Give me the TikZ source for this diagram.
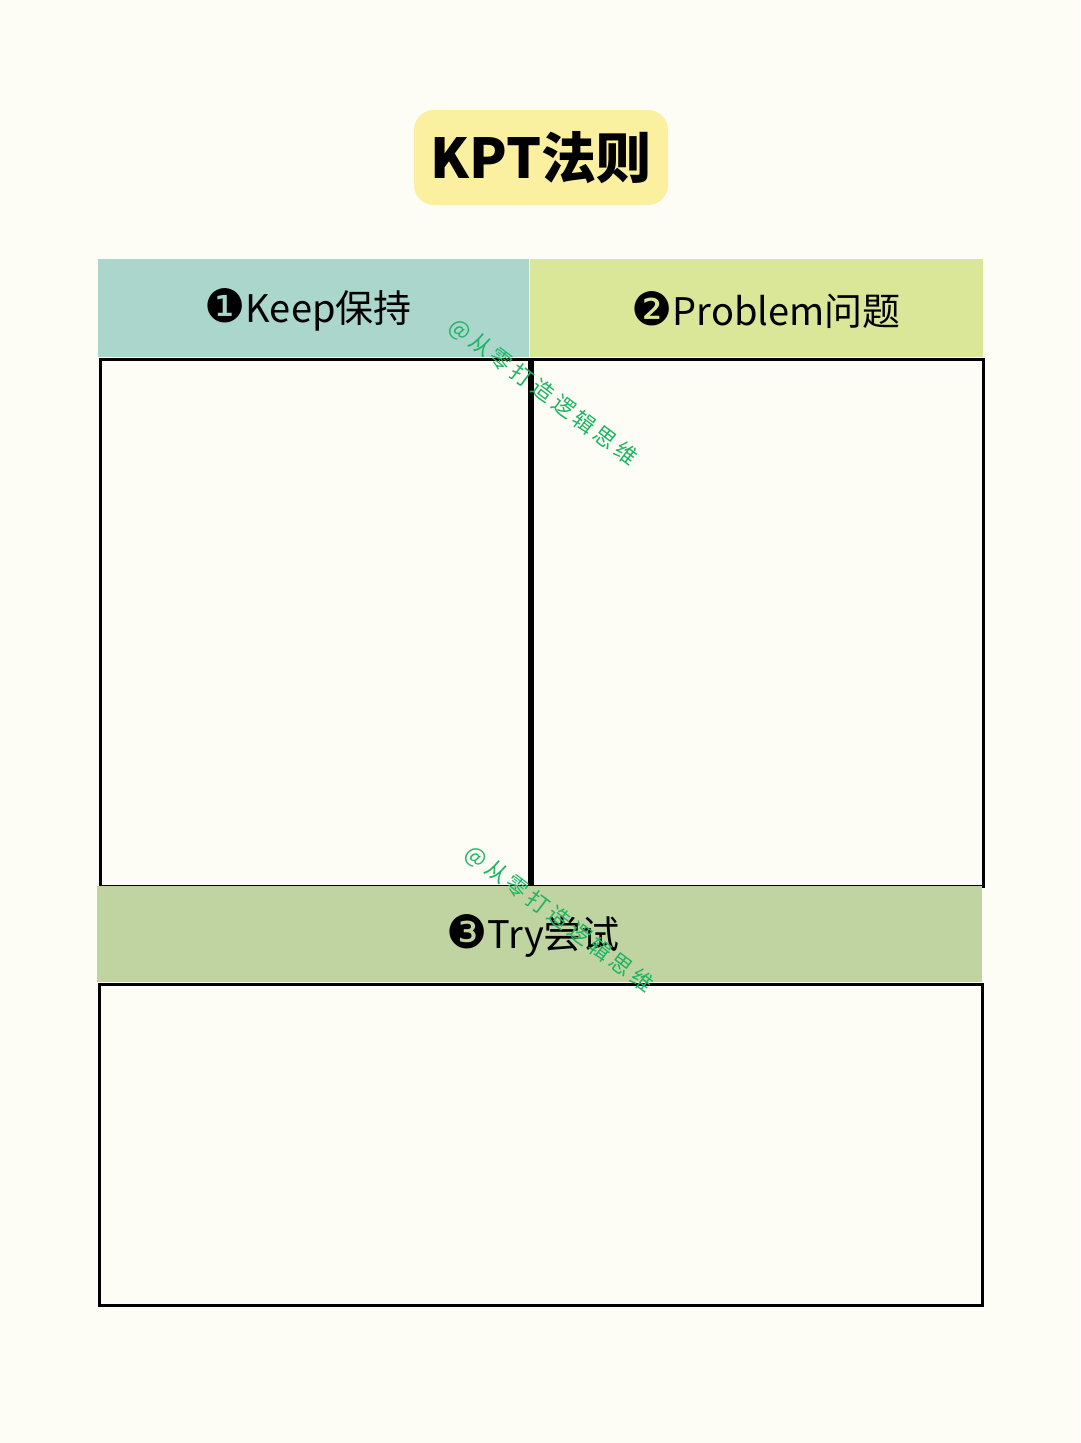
\documentclass[tikz,border=0pt]{standalone}
\usepackage{fontspec}
\setmainfont{Noto Sans CJK SC}
\newfontfamily\numfont{DejaVu Sans}
\newfontfamily\markfont{Noto Sans CJK SC}[LetterSpace=18]
\usepackage{tikz}
\usetikzlibrary{positioning}
\usepackage{xcolor}
\definecolor{paper}{RGB}{253,253,245}
\definecolor{titleyellow}{RGB}{250,240,160}
\definecolor{keepcol}{RGB}{170,214,204}
\definecolor{problemcol}{RGB}{218,230,152}
\definecolor{trycol}{RGB}{192,212,162}
\definecolor{markgreen}{RGB}{30,180,100}
\newcommand{\numdot}[1]{{\numfont\fontsize{46}{46}\selectfont #1}}

\begin{document}
\begin{tikzpicture}[x=1pt,y=-1pt,
	head/.style={inner sep=0pt,anchor=north west},
	headtext/.style={font=\fontsize{38}{42}\selectfont},
	cell/.style={draw=black,line width=3pt,inner sep=0pt,anchor=north west},
	watermark/.style={text=markgreen,rotate=-37,font=\markfont\fontsize{22}{24}\selectfont}]
		\fill[paper] (0,0) rectangle (1080,1443);
		\useasboundingbox (0,0) rectangle (1080,1443);
		
		\node[fill=titleyellow,rounded corners=20pt,minimum width=254pt,minimum height=95pt,font=\fontsize{55}{58}\selectfont\bfseries] (title) at (541,157.5) {KPT法则};
		
		\node[head,fill=keepcol,minimum width=431pt,minimum height=98pt] (keep) at (98,259) {};
		\node[head,fill=problemcol,minimum width=453pt,minimum height=98pt] (problem) at (530,259) {};
		\node[cell,minimum width=429pt,minimum height=527pt] (keepbox) at (99,358) {};
		\node[cell,minimum width=451pt,minimum height=527pt] (problembox) at (531,358) {};
		\node[head,fill=trycol,minimum width=885pt,minimum height=96pt] (try) at (97,886) {};
		\node[cell,minimum width=883pt,minimum height=321pt] (trybox) at (98,983) {};
		
		\node[headtext] (keeptext) at (308,310) {\numdot{❶}Keep保持};
		\node[headtext] (problemtext) at (766,310) {\numdot{❷}Problem问题};
		\node[headtext] (trytext) at (533,936) {\numdot{❸}Try尝试};
		
		\node[watermark] (mark1) at (543,392) {@从零打造逻辑思维};
		\node[watermark] (mark2) at (559,919) {@从零打造逻辑思维};
		\end{tikzpicture}
\end{document}
